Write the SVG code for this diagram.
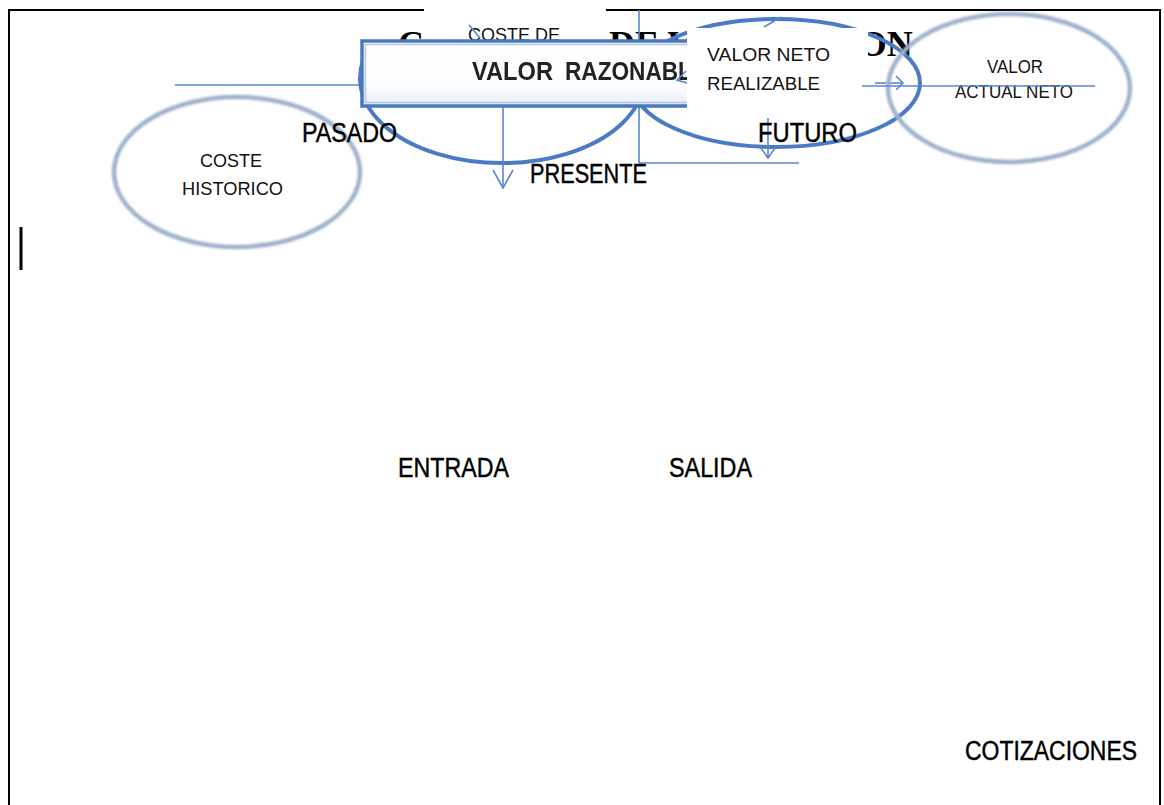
<svg xmlns="http://www.w3.org/2000/svg" width="1164" height="805" viewBox="0 0 1164 805">
  <style>
    .frame { stroke: #000; stroke-width: 2; fill: none; }
    .title { font-family: "Liberation Serif", "Times New Roman", serif; font-weight: bold; font-size: 36px; fill: #000; }
    .label { font-family: "Liberation Sans Narrow", "Liberation Sans", Arial, sans-serif; font-size: 27px; fill: #000; stroke: #000; stroke-width: 0.45; }
    .small { font-family: "Liberation Sans Narrow", "Liberation Sans", Arial, sans-serif; font-size: 18px; fill: #111; }
    .axis { stroke: #5a88cc; stroke-width: 1.6; fill: none; }
    .ring { stroke: #4b7bc6; stroke-width: 4; fill: none; }
    .soft { stroke: #9fb2cb; stroke-width: 4.5; fill: none; filter: url(#haze); }
    .mask { fill: #fff; }
  </style>
  <defs>
    <filter id="haze" x="-10%" y="-10%" width="120%" height="120%">
      <feGaussianBlur stdDeviation="0.8"/>
    </filter>
    <filter id="fuzz" x="-5%" y="-20%" width="110%" height="140%">
      <feGaussianBlur stdDeviation="0.55"/>
    </filter>
    <linearGradient id="boxFill" x1="0" y1="0" x2="0" y2="1">
      <stop offset="0" stop-color="#ffffff"/>
      <stop offset="0.7" stop-color="#fbfcfe"/>
      <stop offset="1" stop-color="#e6ecf5"/>
    </linearGradient>
  </defs>

  <!-- page frame -->
  <g id="frame">
    <path class="frame" d="M9 805 V10 H1160 V805"/>
    <rect x="19.5" y="227" width="3" height="43" fill="#000"/>
  </g>

  <!-- heading -->
  <text class="title" x="398" y="56">CRITERIOS DE VALORACION</text>

  <!-- time axis and arcs -->
  <g id="connectors">
    <line class="axis" x1="175" y1="85" x2="365" y2="85"/>
    <line class="axis" x1="639" y1="10" x2="639" y2="163"/>
    <line class="axis" x1="639" y1="163" x2="799" y2="163"/>
    <!-- lower arc around the present -->
    <path class="ring" d="M374.2 41 A142 85 0 1 0 629.8 41"/>
    <ellipse class="ring" cx="776" cy="83" rx="144" ry="64"/>
    <!-- downward arrow to PRESENTE -->
    <line class="axis" x1="503" y1="105" x2="503" y2="188"/>
    <polyline class="axis" points="493,170 503,188 513,170"/>
    <!-- downward arrow to FUTURO -->
    <line class="axis" x1="768" y1="118" x2="768" y2="158"/>
    <polyline class="axis" points="761,148 768,158 775,148"/>
  </g>

  <!-- COSTE DE ... -->
  <g id="node-coste-de">
    <rect class="mask" x="424" y="0" width="182" height="42"/>
    <text class="small" x="468" y="41" font-size="19" textLength="92" lengthAdjust="spacingAndGlyphs">COSTE DE</text>
    <line class="axis" x1="469" y1="25" x2="480" y2="38"/>
  </g>

  <!-- VALOR RAZONABLE -->
  <g id="node-valor-razonable">
    <rect x="362" y="41" width="360" height="65" fill="url(#boxFill)" stroke="#4a78bd" stroke-width="3.5"/>
    <rect x="365.5" y="44.5" width="353" height="58" fill="none" stroke="#b4c8e6" stroke-width="1.5"/>
    <g filter="url(#fuzz)" font-family="'Liberation Sans', Arial, sans-serif" font-weight="bold" font-size="25" fill="#222">
      <text x="472" y="80" textLength="81" lengthAdjust="spacingAndGlyphs">VALOR</text>
      <text x="565" y="80" textLength="142" lengthAdjust="spacingAndGlyphs">RAZONABLE</text>
    </g>
  </g>

  <!-- VALOR NETO REALIZABLE -->
  <g id="node-valor-neto">
    <rect class="mask" x="687" y="28" width="181" height="87"/>
    <text class="small" x="707" y="61" font-size="19" textLength="123" lengthAdjust="spacingAndGlyphs">VALOR NETO</text>
    <text class="small" x="707" y="90" font-size="19" textLength="113" lengthAdjust="spacingAndGlyphs">REALIZABLE</text>
  </g>

  <g id="connectors-top">
    <polyline class="axis" points="686,71 677,80 687,83"/>
    <line class="axis" x1="764" y1="27" x2="781" y2="17"/>
    <line class="axis" x1="875" y1="83" x2="903" y2="83"/>
    <polyline class="axis" points="896,76 903,83 896,90"/>
  </g>

  <!-- COSTE HISTORICO -->
  <g id="node-coste-historico">
    <ellipse class="soft" cx="237" cy="172" rx="123" ry="75"/>
    <text class="small" x="200" y="167" font-size="19" textLength="62" lengthAdjust="spacingAndGlyphs">COSTE</text>
    <text class="small" x="182" y="195" font-size="19" textLength="101" lengthAdjust="spacingAndGlyphs">HISTORICO</text>
  </g>

  <!-- VALOR ACTUAL NETO -->
  <g id="node-valor-actual-neto">
    <ellipse class="soft" cx="1009" cy="88" rx="121" ry="74"/>
    <text class="small" x="987" y="73" textLength="56" lengthAdjust="spacingAndGlyphs">VALOR</text>
    <text class="small" x="955" y="98" textLength="118" lengthAdjust="spacingAndGlyphs">ACTUAL NETO</text>
    <line class="axis" x1="862" y1="86" x2="1095" y2="86"/>
  </g>

  <!-- axis labels -->
  <g id="labels">
    <text class="label" x="302" y="142" textLength="95" lengthAdjust="spacingAndGlyphs">PASADO</text>
    <text class="label" x="530" y="183" textLength="117" lengthAdjust="spacingAndGlyphs">PRESENTE</text>
    <text class="label" x="758" y="142" textLength="99" lengthAdjust="spacingAndGlyphs">FUTURO</text>
    <text class="label" x="398" y="477" textLength="111" lengthAdjust="spacingAndGlyphs">ENTRADA</text>
    <text class="label" x="669" y="477" textLength="83" lengthAdjust="spacingAndGlyphs">SALIDA</text>
    <text class="label" x="965" y="760" textLength="172" lengthAdjust="spacingAndGlyphs">COTIZACIONES</text>
  </g>
</svg>
